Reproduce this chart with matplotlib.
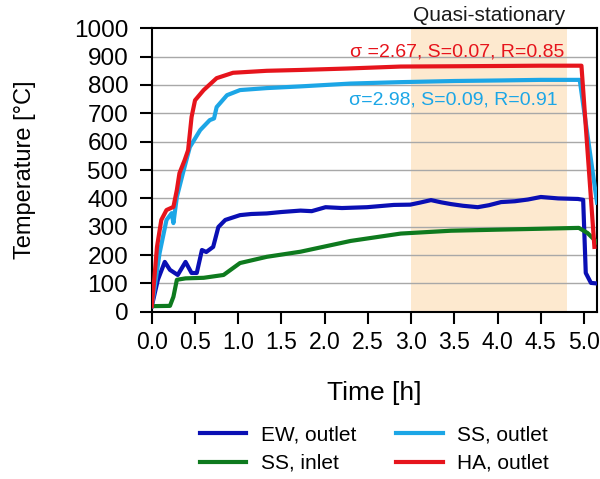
import numpy as np
import matplotlib.pyplot as plt

plt.rcParams['font.family'] = ['Liberation Sans', 'DejaVu Sans']

# Values (time in h, temperature in degC)
ha_t = [0.0, 0.03, 0.06, 0.11, 0.17, 0.25, 0.29, 0.32, 0.38, 0.42, 0.46, 0.50,
        0.60, 0.75, 0.94, 1.33, 1.72, 2.26, 2.88, 3.5, 4.04, 4.5, 4.97, 5.12]
ha_T = [20, 120, 229, 324, 359, 370, 430, 489, 535, 570, 687, 746,
        782, 824, 843, 850, 853, 858, 865, 866, 867, 868, 868, 229]

ss_out_t = [0.0, 0.03, 0.09, 0.17, 0.23, 0.25, 0.29, 0.36, 0.44, 0.56, 0.67,
            0.72, 0.75, 0.87, 1.02, 1.33, 1.72, 2.30, 2.88, 3.5, 4.04, 4.5,
            4.95, 5.15]
ss_out_T = [20, 80, 207, 324, 348, 313, 405, 489, 581, 641, 676,
            682, 722, 764, 782, 789, 795, 805, 810, 814, 816, 818,
            818, 385]

ew_t = [0.0, 0.03, 0.07, 0.15, 0.21, 0.30, 0.39, 0.46, 0.52, 0.58, 0.63,
        0.71, 0.77, 0.85, 1.02, 1.15, 1.33, 1.5, 1.72, 1.85, 2.01, 2.2, 2.49,
        2.8, 2.99, 3.1, 3.23, 3.35, 3.46, 3.6, 3.77, 3.9, 4.04, 4.2, 4.35,
        4.50, 4.7, 4.93, 4.99, 5.02, 5.08, 5.15]
ew_T = [20, 60, 113, 176, 148, 130, 176, 137, 137, 218, 211,
        229, 299, 324, 341, 345, 347, 352, 357, 355, 369, 366, 369,
        377, 378, 385, 394, 386, 380, 374, 369, 376, 387, 390, 396,
        405, 400, 398, 395, 137, 102, 100]

ss_in_t = [0.0, 0.21, 0.25, 0.29, 0.39, 0.60, 0.83, 1.02, 1.33, 1.72, 2.30,
           2.88, 3.46, 4.04, 4.5, 4.94, 5.04, 5.15]
ss_in_T = [20, 21, 53, 113, 118, 120, 130, 172, 194, 212, 250,
           276, 286, 290, 293, 296, 278, 245]

quasi_start, quasi_end = 3.0, 4.8
y_ticks = np.arange(0, 1001, 100)
x_ticks = np.arange(0, 5.01, 0.5)

fig = plt.figure(figsize=(6, 4.79), dpi=100)
ax = fig.add_axes([0.253, 0.349, 0.742, 0.592])

ax.axvspan(quasi_start, quasi_end, color='#fde9cf', zorder=0, lw=0)
for yv in y_ticks[1:-1]:
    ax.axhline(yv, color='#a8a8a8', lw=1, zorder=1)

ax.plot(ew_t, ew_T, color='#0a0fb4', lw=3, label='EW, outlet', zorder=3)
ax.plot(ss_in_t, ss_in_T, color='#0e7a1e', lw=3, label='SS, inlet', zorder=3)
ax.plot(ss_out_t, ss_out_T, color='#1ca6e6', lw=3, label='SS, outlet', zorder=3)
ax.plot(ha_t, ha_T, color='#e6141c', lw=3, label='HA, outlet', zorder=4)

ax.text(4.77, 915, 'σ =2.67, S=0.07, R=0.85', color='#e6141c', fontsize=14,
        ha='right', va='center')
ax.text(4.70, 746, 'σ=2.98, S=0.09, R=0.91', color='#1ca6e6', fontsize=14,
        ha='right', va='center')
ax.text(3.9, 1012, 'Quasi-stationary', color='#1a1a1a', fontsize=15,
        ha='center', va='bottom')

ax.set_xlim(0, 5.15)
ax.set_ylim(0, 1000)
ax.set_xticks(x_ticks)
ax.set_xticklabels([f'{v:.1f}' for v in x_ticks])
ax.set_yticks(y_ticks)
ax.tick_params(axis='x', labelsize=16.5, length=8.5, width=1.5, pad=5)
ax.tick_params(axis='y', labelsize=17.5, length=9, width=1.5, pad=8)
for sp in ax.spines.values():
    sp.set_linewidth(1.5)

ax.set_xlabel('Time [h]', fontsize=19, labelpad=20)
ax.set_ylabel('Temperature [°C]', fontsize=17, labelpad=27)

ax.legend(ncol=2, loc='upper center', bbox_to_anchor=(0.5, -0.335),
          frameon=False, fontsize=15, handlelength=2.25, handletextpad=0.7,
          columnspacing=1.9, labelspacing=0.45)

fig.savefig('out.png', dpi=100)
